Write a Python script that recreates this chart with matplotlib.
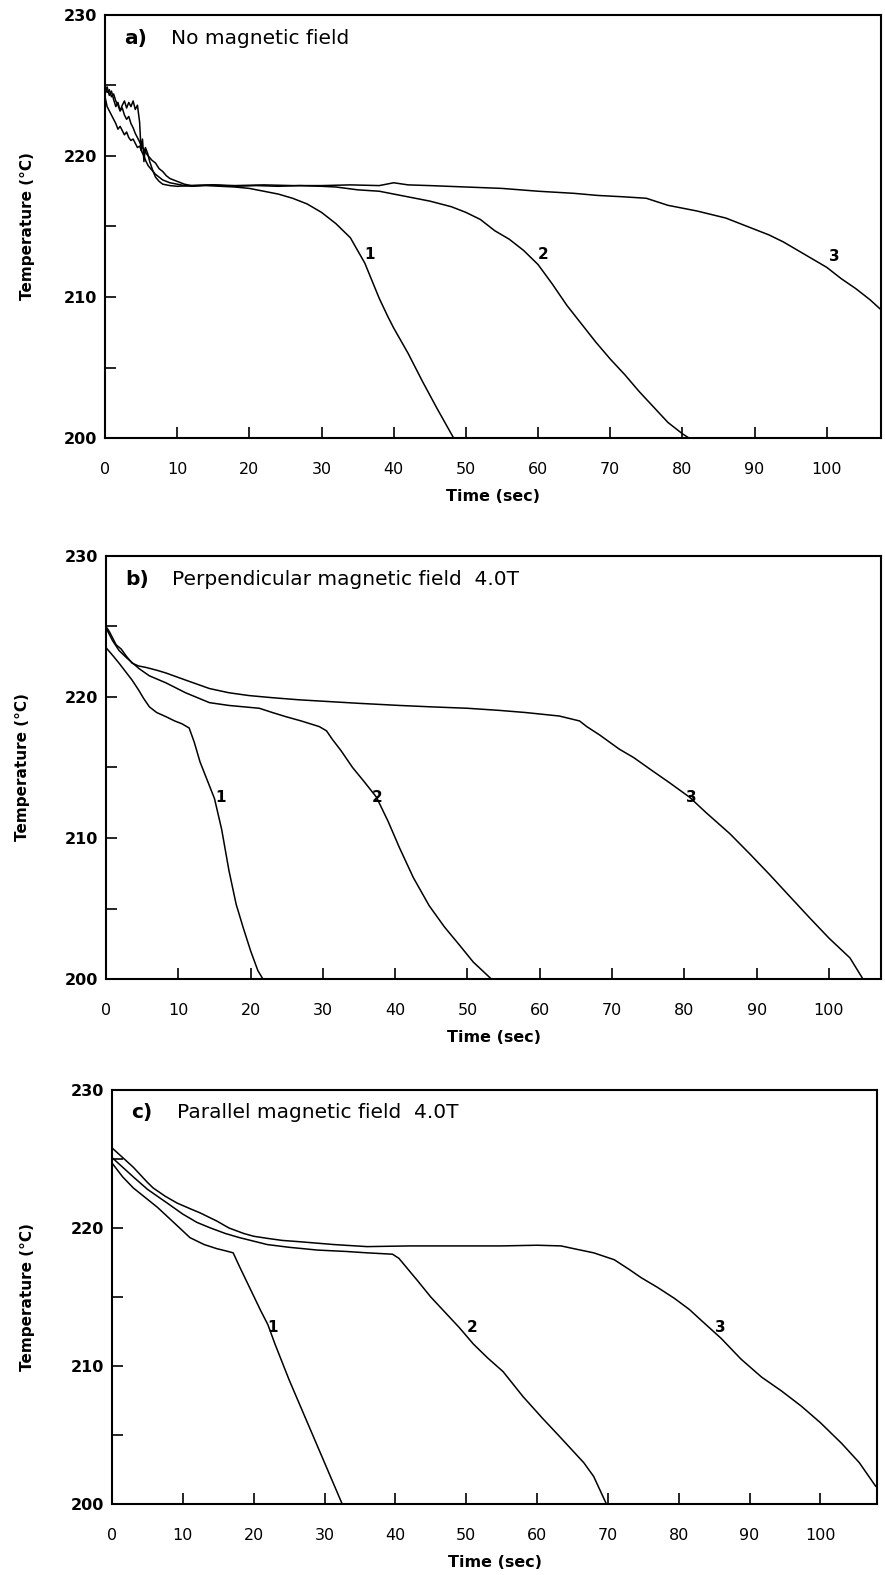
import numpy as np
import matplotlib
matplotlib.use('Agg')
import matplotlib.pyplot as plt

plt.rcParams['font.family'] = ['DejaVu Sans']

# panel a) no magnetic field
a1_t = [0, 0.3, 0.6, 0.9, 1.2, 1.5, 1.8, 2.1, 2.4, 2.7, 3.0, 3.3, 3.6, 3.9, 4.2, 4.5, 4.8, 5.1, 5.4, 5.7,
        6.0, 6.5, 7.0, 7.5, 8.0, 8.5, 9, 10, 11, 12, 14, 16, 18, 20, 22, 24, 26, 28, 30, 32, 34, 36, 38,
        39.2, 40, 42, 44, 46, 48.3]
a1_T = [224.2, 223.5, 223.2, 222.9, 222.6, 222.3, 221.9, 222.1, 221.8, 221.5, 221.7, 221.3, 221.1, 221.2,
        220.9, 220.6, 220.7, 220.3, 220.0, 219.6, 219.3, 219.0, 218.7, 218.5, 218.3, 218.2, 218.1, 218.0,
        217.9, 217.85, 217.9, 217.85, 217.8, 217.7, 217.5, 217.3, 217.0, 216.6, 216.0, 215.2, 214.2,
        212.4, 209.9, 208.6, 207.8, 206.0, 204.0, 202.1, 200.0]

a2_t = [0, 0.3, 0.6, 0.9, 1.2, 1.5, 1.8, 2.1, 2.4, 2.7, 3.0, 3.3, 3.6, 3.9, 4.2, 4.5, 4.8, 5.1, 5.4, 5.7,
        6.0, 6.5, 7.0, 7.5, 8.0, 8.5, 9, 10, 11, 12, 15, 18, 21, 24, 27, 30, 32, 35, 38, 40, 42, 45, 48,
        50, 52, 54, 56, 58, 60, 62, 64, 66, 68, 70, 72, 74, 76, 78, 80, 80.9]
a2_T = [224.9, 224.5, 224.7, 224.2, 224.4, 223.9, 223.6, 223.2, 223.4, 222.9, 222.6, 222.8, 222.3, 222.0,
        221.6, 221.3, 221.0, 220.6, 220.5, 220.2, 220.0, 219.7, 219.5, 219.1, 218.9, 218.6, 218.4, 218.2,
        218.0, 217.9, 217.95, 217.85, 217.9, 217.85, 217.9, 217.85, 217.8, 217.6, 217.5, 217.3, 217.1,
        216.8, 216.4, 216.0, 215.5, 214.7, 214.1, 213.3, 212.3, 210.9, 209.4, 208.1, 206.8, 205.6, 204.5,
        203.3, 202.2, 201.1, 200.3, 200.0]

a3_t = [0, 0.3, 0.6, 0.9, 1.2, 1.5, 1.8, 2.1, 2.4, 2.7, 3.0, 3.3, 3.6, 3.9, 4.2, 4.5, 4.8, 5.0, 5.2, 5.4,
        5.6, 5.9, 6.2, 6.6, 7.0, 7.5, 8.0, 9, 10, 12, 15, 18, 22, 26, 30, 34, 38, 40, 42, 45, 50, 55, 60,
        65, 68.3, 72, 75, 78, 82, 86, 88, 90, 92, 94, 96, 98, 100, 102, 104, 106, 107.5]
a3_T = [224.6, 224.9, 224.3, 224.6, 224.0, 223.5, 223.8, 223.2, 223.6, 223.9, 223.4, 223.8, 223.5, 223.9,
        223.3, 223.6, 222.4, 220.4, 221.2, 219.6, 220.6, 220.2, 219.6, 219.0, 218.5, 218.2, 218.0, 217.9,
        217.85, 217.9, 217.95, 217.9, 217.95, 217.9, 217.9, 217.95, 217.9, 218.1, 217.95, 217.9, 217.8,
        217.7, 217.5, 217.35, 217.2, 217.1, 217.0, 216.5, 216.1, 215.6, 215.2, 214.8, 214.4, 213.9, 213.3,
        212.7, 212.1, 211.3, 210.6, 209.8, 209.1]

# panel b) perpendicular field 4.0T
b1_t = [0, 1, 1.8, 2.7, 3.6, 4.5, 5.2, 6, 7, 8.3, 9.5, 10.5, 11.5, 12.2, 13, 14, 15, 16, 17, 18, 19, 20,
        21, 21.7]
b1_T = [223.5, 222.9, 222.4, 221.8, 221.2, 220.5, 219.9, 219.3, 218.9, 218.6, 218.3, 218.1, 217.8, 216.8,
        215.4, 214.1, 212.8, 210.6, 207.7, 205.3, 203.6, 202.0, 200.6, 200.0]

b2_t = [0, 0.9, 1.8, 2.8, 3.7, 4.6, 6, 8.3, 11, 14.3, 17, 21.2, 23, 24.9, 27, 29.5, 30.5, 31.3, 32.5, 34.1,
        35.7, 37.4, 39, 40.6, 42.5, 44.7, 46.8, 48.9, 50.8, 53.3]
b2_T = [224.9, 224.0, 223.3, 222.8, 222.4, 222.0, 221.5, 221.0, 220.3, 219.6, 219.4, 219.2, 218.9, 218.6,
        218.3, 217.9, 217.6, 217.0, 216.2, 215.0, 214.0, 212.9, 211.2, 209.3, 207.2, 205.2, 203.7, 202.4,
        201.2, 200.0]

b3_t = [0, 0.5, 1.4, 2.1, 2.8, 3.6, 4.5, 5.5, 7, 8.3, 11, 14.3, 17, 19.8, 23, 26.7, 30, 35, 40.6, 45, 50,
        54.4, 58, 62.7, 65.5, 66.5, 68.3, 71, 73, 75.2, 78, 80.7, 83, 86.3, 89, 91.8, 94.5, 97.4, 100,
        102.9, 104.7]
b3_T = [225.0, 224.6, 223.7, 223.4, 222.9, 222.4, 222.2, 222.1, 221.9, 221.7, 221.2, 220.6, 220.3, 220.1,
        219.95, 219.8, 219.7, 219.55, 219.4, 219.3, 219.2, 219.05, 218.9, 218.65, 218.3, 217.9, 217.3,
        216.3, 215.7, 214.9, 213.9, 212.9, 211.8, 210.3, 208.9, 207.4, 205.9, 204.3, 202.9, 201.5, 200.0]

# panel c) parallel field 4.0T
c1_t = [0, 1.5, 3, 4.7, 6.4, 8.5, 11, 13, 14.8, 16, 17.1, 18, 19.5, 21, 22, 23, 24, 25, 26, 27, 28, 29,
        30, 31, 32.5]
c1_T = [224.7, 223.7, 222.9, 222.2, 221.5, 220.5, 219.3, 218.8, 218.5, 218.35, 218.2, 217.2, 215.6, 214.0,
        213.0, 211.6, 210.3, 209.0, 207.8, 206.6, 205.4, 204.2, 203.0, 201.8, 200.0]

c2_t = [0, 1.5, 3, 5, 7.8, 10, 12, 13.9, 16, 18, 21.9, 25, 29, 33, 36, 39.6, 40.5, 41.8, 43.1, 45, 47, 49,
        51, 53, 55.2, 58, 60.8, 63, 66.6, 68, 69.8]
c2_T = [225.1, 224.4, 223.7, 222.8, 221.8, 221.0, 220.4, 220.0, 219.6, 219.3, 218.8, 218.6, 218.4, 218.3,
        218.2, 218.1, 217.8, 217.0, 216.2, 215.0, 213.9, 212.8, 211.6, 210.6, 209.6, 207.8, 206.2, 205.0,
        203.0, 202.0, 200.0]

c3_t = [0, 1.5, 3, 5, 5.8, 7.5, 9.2, 11, 12.4, 14.8, 16.5, 18.6, 20, 21.9, 24, 26.6, 31.3, 36, 42, 47.8,
        54.9, 60, 63.4, 65.2, 68, 70.9, 73, 74.7, 77, 79.4, 81.5, 83.2, 86, 88.8, 91.7, 94.5, 97.3, 100, 103,
        105.5, 107.8]
c3_T = [225.8, 225.1, 224.4, 223.3, 222.9, 222.3, 221.8, 221.4, 221.1, 220.5, 220.0, 219.6, 219.4, 219.25,
        219.1, 219.0, 218.8, 218.65, 218.7, 218.7, 218.7, 218.75, 218.7, 218.5, 218.2, 217.7, 217.0, 216.4,
        215.7, 214.9, 214.1, 213.3, 212.0, 210.5, 209.2, 208.2, 207.1, 205.9, 204.4, 203.0, 201.3]

panels = [
    dict(tag='a)', title='No magnetic field', rect=[0.1186, 0.7219, 0.8768, 0.2686], xmax=107.5,
         curves=[(a1_t, a1_T), (a2_t, a2_T), (a3_t, a3_T)],
         labels=[(36.7, 213.0), (60.7, 213.0), (101.0, 212.9)], ylab_x=-0.090),
    dict(tag='b)', title='Perpendicular magnetic field  4.0T', rect=[0.1198, 0.3784, 0.8757, 0.2686],
         xmax=107.2, curves=[(b1_t, b1_T), (b2_t, b2_T), (b3_t, b3_T)],
         labels=[(15.8, 212.9), (37.5, 212.9), (80.9, 212.9)], ylab_x=-0.098),
    dict(tag='c)', title='Parallel magnetic field  4.0T', rect=[0.1266, 0.0450, 0.8644, 0.2630],
         xmax=108.0, curves=[(c1_t, c1_T), (c2_t, c2_T), (c3_t, c3_T)],
         labels=[(22.6, 212.8), (50.8, 212.8), (85.9, 212.8)], ylab_x=-0.1007),
]

fig = plt.figure(figsize=(8.85, 15.75), dpi=100)

for p in panels:
    ax = fig.add_axes(p['rect'])
    for t, T in p['curves']:
        ax.plot(t, T, color='black', lw=1.1)
    for i, (lx, ly) in enumerate(p['labels']):
        ax.text(lx, ly, str(i + 1), ha='center', va='center', fontsize=11, fontweight='bold')
    ax.set_xlim(0, p['xmax'])
    ax.set_ylim(200, 230)
    ax.set_xticks(np.arange(0, 101, 10))
    ax.set_yticks(np.arange(200, 231, 5))
    ax.set_yticklabels([str(v) if v % 10 == 0 else '' for v in range(200, 231, 5)],
                       fontsize=11.5, fontweight='bold')
    ax.set_xticklabels([str(v) for v in range(0, 101, 10)], fontsize=11.5)
    ax.tick_params(axis='both', direction='in', length=8, width=1.2, colors='black')
    ax.tick_params(axis='x', pad=17)
    ax.tick_params(axis='y', pad=6)
    for s in ax.spines.values():
        s.set_linewidth(1.5)
    ax.set_xlabel('Time (sec)', fontsize=11.5, fontweight='bold', labelpad=9)
    ax.set_ylabel('Temperature (°C)', fontsize=11, fontweight='bold')
    ax.yaxis.set_label_coords(p['ylab_x'], 0.5)
    ax.text(0.025, 0.945, p['tag'], transform=ax.transAxes, fontsize=14.5, fontweight='bold',
            ha='left', va='center')
    ax.text(0.085, 0.945, p['title'], transform=ax.transAxes, fontsize=14.5,
            ha='left', va='center')

fig.savefig('out.png', dpi=100)
